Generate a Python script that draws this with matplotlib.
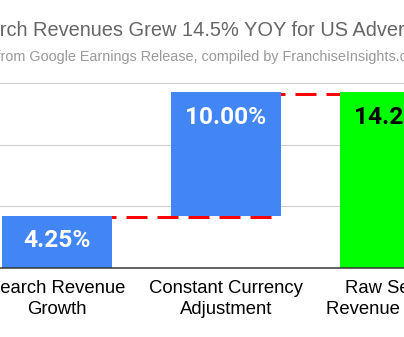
import matplotlib
matplotlib.use("Agg")
import matplotlib.pyplot as plt
import matplotlib.transforms as mtransforms
import numpy as np

# Waterfall data (percent growth, year over year)
categories = ["Search Revenue\nGrowth", "Constant Currency\nAdjustment", "Raw Search\nRevenue Growth"]
steps = [4.25, 10.00]
bar_colors = ["#4285F4", "#4285F4", "#00FF00"]
label_colors = ["white", "white", "black"]
grid_values = [5, 10, 15]
title = "Google Search Revenues Grew 14.5% YOY for US Advertisers"
subtitle = "Data from Google Earnings Release, compiled by FranchiseInsights.com"

plt.rcParams["lines.scale_dashes"] = False

W, H = 404, 337
DPI = 100
PX = 72 / DPI  # points per pixel

fig = plt.figure(figsize=(W / DPI, H / DPI), dpi=DPI)
fig.patch.set_facecolor("white")

# plot area in pixels
ax_top, ax_bot = 75, 268
ax = fig.add_axes([0, 1 - ax_bot / H, 1, (ax_bot - ax_top) / H])

x_first, x_step = 57, 169      # bar centre spacing (px)
bar_w = 110 / x_step
px_per_unit = 12.35
ax.set_xlim(-x_first / x_step, (W - x_first) / x_step)
ax.set_ylim(0, (ax_bot - ax_top) / px_per_unit)

cum = np.cumsum(steps)
bottoms = np.concatenate([[0], cum[:-1], [0]])
heights = np.concatenate([steps, [cum[-1]]])
xs = np.arange(len(categories))

ax.bar(xs, heights, bottom=bottoms, width=bar_w, color=bar_colors, zorder=2)

# dashed connectors between consecutive bars
shift = mtransforms.ScaledTranslation(0, -1.5 / DPI, fig.dpi_scale_trans)
for i, level in enumerate(cum):
    ax.plot([xs[i] - bar_w / 2, xs[i + 1] + bar_w / 2], [level, level],
            color="#FF0000", lw=3 * PX, dashes=(21 * PX, 10 * PX),
            solid_capstyle="butt", dash_capstyle="butt", zorder=1,
            transform=ax.transData + shift)

# value labels near the top of each bar
for x, b, h, c in zip(xs, bottoms, heights, label_colors):
    ax.annotate(f"{h:.2f}%", (x, b + h), xytext=(0, -25 * PX),
                textcoords="offset points", ha="center", va="center",
                color=c, fontsize=24.5 * PX, fontweight="bold", family="Roboto",
                zorder=3, annotation_clip=False)

ax.set_yticks(grid_values)
ax.yaxis.grid(True, color="#cccccc", lw=1 * PX)
ax.set_axisbelow(True)
ax.tick_params(axis="y", left=False, labelleft=False)

ax.set_xticks(xs)
ax.set_xticklabels(categories, fontsize=18.5 * PX, family="Liberation Sans",
                   color="#000000", linespacing=1.33)
ax.tick_params(axis="x", length=0, pad=12 * PX)

for s in ("top", "left", "right"):
    ax.spines[s].set_visible(False)
ax.spines["bottom"].set_color("#333333")
ax.spines["bottom"].set_linewidth(1.5 * PX)
ax.spines["bottom"].set_zorder(4)

# title and subtitle: wide headings that start beyond the left edge
renderer = fig.canvas.get_renderer()


def text_width(s, size):
    probe = fig.text(0, 0, s, fontsize=size, family="Liberation Sans")
    w = probe.get_window_extent(renderer).width
    probe.remove()
    return w


def heading(text, skip, size, color, baseline_px, left_px):
    # place the heading so that text[skip:] begins at left_px
    hidden = text_width(text, size) - text_width(text[skip:], size)
    fig.text((left_px - hidden) / W, 1 - baseline_px / H, text, fontsize=size,
             family="Liberation Sans", color=color, ha="left", va="baseline")


heading(title, 10, 20.0 * PX, "#666666", 36, 0)
heading(subtitle, 6, 14.4 * PX, "#999999", 61, 1)

fig.savefig("out.png", dpi=DPI)
